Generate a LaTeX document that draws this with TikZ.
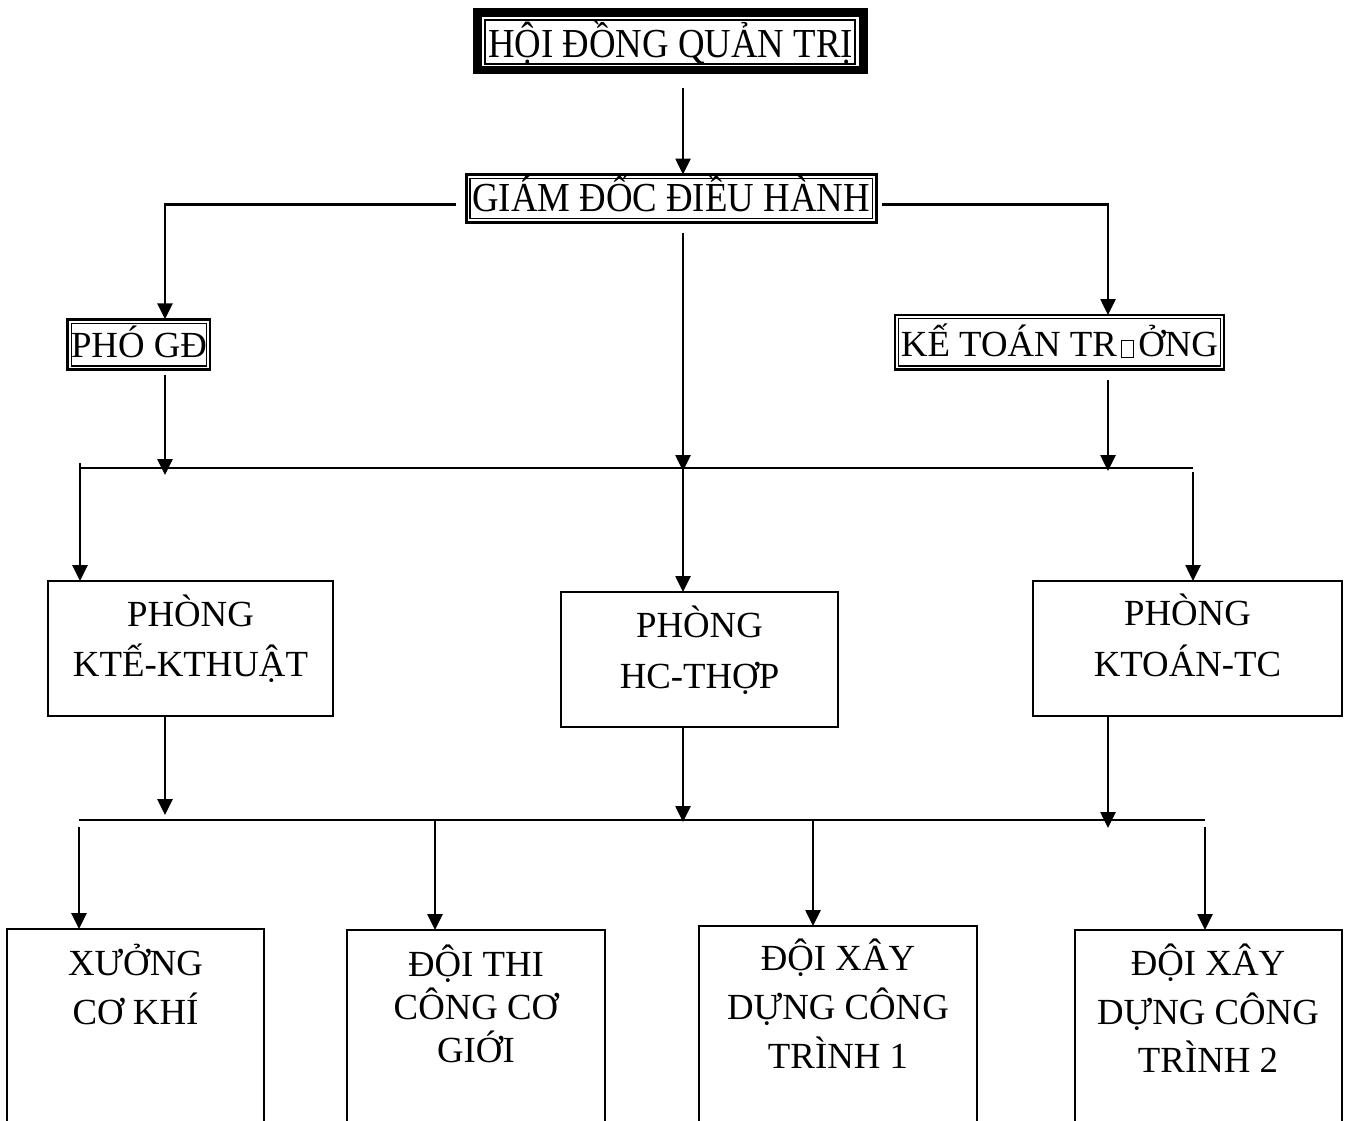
\documentclass[tikz,border=0pt]{standalone}
\usepackage{fontspec}
\setmainfont{Liberation Serif}
\usepackage{graphicx}
\usetikzlibrary{arrows.meta,calc}

% text size used in the chart
\newcommand\chartfont{\fontsize{36.8pt}{44pt}\selectfont}
% slightly tall lettering for the two top boxes
\newcommand\tallcap[1]{\scalebox{1}[1.12]{#1}}
% empty glyph box printed in place of a missing letter
\newcommand\nochar{{\setlength\fboxsep{0pt}\setlength\fboxrule{1.2pt}\hspace{4pt}\fbox{\rule{0pt}{16pt}\hspace{11pt}}\hspace{4pt}}}
% thin inner line of a double-framed box
\newcommand\innerframe[1]{\draw[line width=1.2pt] ($(#1.north west)+(3.8,3.8)$) rectangle ($(#1.south east)+(-3.8,-3.8)$);}

\begin{document}
\begin{tikzpicture}[x=1pt,y=-1pt,
  link/.style={line width=2.6pt},
  arr/.style={link,-{Triangle[width=15pt,length=16pt]}},
  plainbox/.style={draw,line width=2.2pt,inner sep=0pt,outer sep=0pt},
  dblbox/.style={draw,line width=2.6pt,inner sep=0pt,outer sep=0pt},
  lbl/.style={anchor=base,inner sep=0pt,outer sep=0pt,font=\chartfont}]

\useasboundingbox (0,0) rectangle (1349,1120);
\clip (0,0) rectangle (1349,1120);

% ---------- board ----------
\node[draw,line width=8.3pt,inner sep=0pt,outer sep=0pt,
      minimum width=385.9pt,minimum height=57.4pt] (hdqt) at (670.4,41.15) {};
\draw[line width=2pt] ($(hdqt.north west)+(7.9,7.5)$) rectangle ($(hdqt.south east)+(-7.9,-6.2)$);
\node[lbl] (hdqt-t) at (670.5,57.3) {\tallcap{HỘI ĐỒNG QUẢN TRỊ}};

% ---------- management ----------
\node[dblbox,minimum width=410pt,minimum height=47.7pt] (gd) at (671.2,198.35) {};
\innerframe{gd}
\node[lbl] (gd-t) at (671,211.7) {\tallcap{GIÁM ĐỐC ĐIỀU HÀNH}};

\node[dblbox,minimum width=142.3pt,minimum height=50.4pt] (phogd) at (138.85,344.5) {};
\innerframe{phogd}
\node[lbl] (phogd-t) at (139,357.3) {PHÓ GĐ};

\node[dblbox,minimum width=329pt,minimum height=54.7pt] (ktt) at (1059.5,342.35) {};
\innerframe{ktt}
\node[lbl] (ktt-t) at (1059.5,356.7) {KẾ TOÁN TR\nochar ỞNG};

% ---------- departments ----------
\node[plainbox,minimum width=285pt,minimum height=135pt] (kt) at (190.5,648.5) {};
\node[lbl] (kt-t1) at (190.5,626) {PHÒNG};
\node[lbl] (kt-t2) at (190.5,676) {KTẾ-KTHUẬT};

\node[plainbox,minimum width=277pt,minimum height=135pt] (hc) at (699.5,659.5) {};
\node[lbl] (hc-t1) at (699.5,637) {PHÒNG};
\node[lbl] (hc-t2) at (699.5,688) {HC-THỢP};

\node[plainbox,minimum width=309pt,minimum height=135pt] (ktoan) at (1187.5,648.5) {};
\node[lbl] (ktoan-t1) at (1187.5,625) {PHÒNG};
\node[lbl] (ktoan-t2) at (1187.5,676) {KTOÁN-TC};

% ---------- units ----------
\node[plainbox,minimum width=257pt,minimum height=206pt] (xuong) at (135.5,1032) {};
\node[lbl] (xuong-t1) at (135.5,975) {XƯỞNG};
\node[lbl] (xuong-t2) at (135.5,1024) {CƠ KHÍ};

\node[plainbox,minimum width=258pt,minimum height=205pt] (doithi) at (476,1032.5) {};
\node[lbl] (doithi-t1) at (476,976) {ĐỘI THI};
\node[lbl] (doithi-t2) at (476,1019) {CÔNG CƠ};
\node[lbl] (doithi-t3) at (476,1062) {GIỚI};

\node[plainbox,minimum width=278pt,minimum height=209pt] (dx1) at (838,1030.5) {};
\node[lbl] (dx1-t1) at (838,970) {ĐỘI XÂY};
\node[lbl] (dx1-t2) at (838,1019) {DỰNG CÔNG};
\node[lbl] (dx1-t3) at (838,1068) {TRÌNH 1};

\node[plainbox,minimum width=267pt,minimum height=205pt] (dx2) at (1208.5,1032.5) {};
\node[lbl] (dx2-t1) at (1208,975) {ĐỘI XÂY};
\node[lbl] (dx2-t2) at (1208,1024) {DỰNG CÔNG};
\node[lbl] (dx2-t3) at (1208,1072) {TRÌNH 2};

% ---------- guide columns and bus lines ----------
\coordinate (spine) at (683,0);
\coordinate (lcol) at (165,0);
\coordinate (rcol) at (1108,0);
\coordinate (c2) at (435,0);
\coordinate (c3) at (813,0);
\coordinate (b1w) at (80,468);
\coordinate (b1e) at (1193,468);
\coordinate (b2w) at (79,820);
\coordinate (b2e) at (1205,820);

\draw[link] (b1w) -- (b1e);
\draw[link] (b2w) -- (b2e);

% board to director
\draw[arr] ($(hdqt.south -| spine)+(0,18)$) -- (spine |- gd.north);

% director to deputy and chief accountant
\draw[arr] ($(gd.west)+(-10,6)$) -| (lcol |- phogd.north);
\draw[arr] ($(gd.east)+(6,6)$) -| (rcol |- ktt.north);

% into the first bus
\draw[arr] ($(phogd.south -| lcol)+(0,5)$) -- ($(lcol |- b1w)+(0,7)$);
\draw[arr] ($(gd.south -| spine)+(0,11)$) -- ($(spine |- b1w)+(0,3)$);
\draw[arr] ($(ktt.south -| rcol)+(0,10)$) -- ($(rcol |- b1w)+(0,3)$);

% first bus to departments
\draw[arr] ($(b1w)+(0,-5)$) -- (b1w |- kt.north);
\draw[arr] (spine |- b1w) -- (spine |- hc.north);
\draw[arr] ($(b1e)+(0,4)$) -- (b1e |- ktoan.north);

% departments into the second bus
\draw[arr] (lcol |- kt.south) -- ($(lcol |- b2w)+(0,-5)$);
\draw[arr] (spine |- hc.south) -- ($(spine |- b2w)+(0,2)$);
\draw[arr] (rcol |- ktoan.south) -- ($(rcol |- b2w)+(0,8)$);

% second bus to units
\draw[arr] ($(b2w)+(0,7)$) -- (b2w |- xuong.north);
\draw[arr] (c2 |- b2w) -- (c2 |- doithi.north);
\draw[arr] (c3 |- b2w) -- (c3 |- dx1.north);
\draw[arr] ($(b2e)+(0,7)$) -- (b2e |- dx2.north);

\end{tikzpicture}
\end{document}
